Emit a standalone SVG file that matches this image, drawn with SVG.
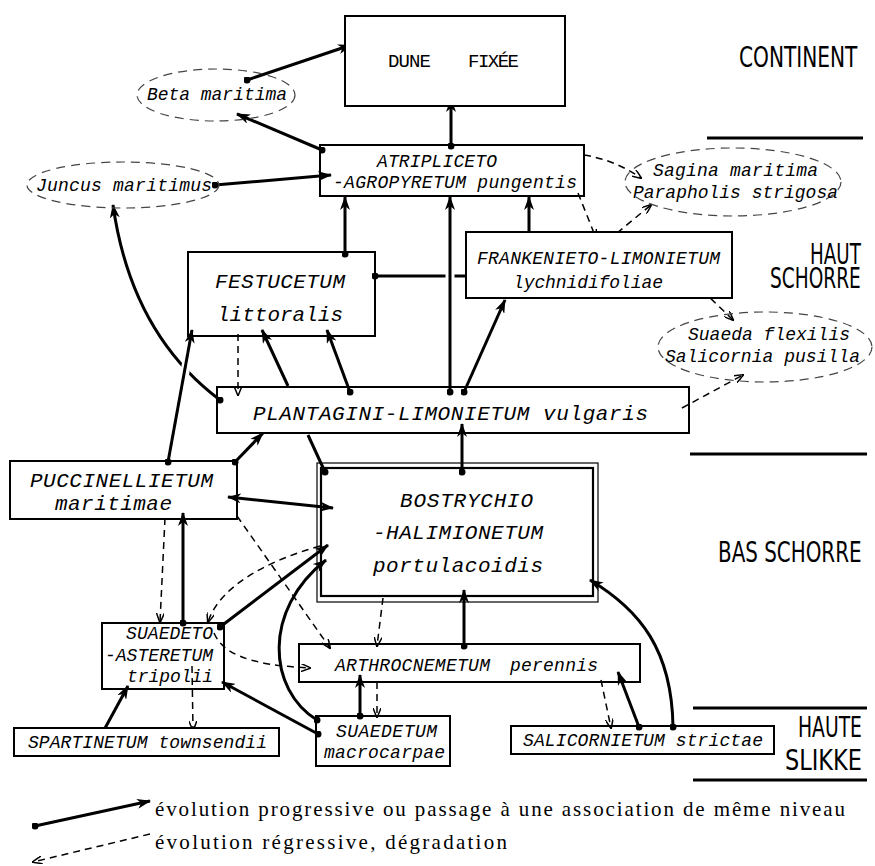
<svg xmlns="http://www.w3.org/2000/svg" width="875" height="866" viewBox="0 0 875 866">
<style>
.bx{fill:#fff;stroke:#000;stroke-width:2}
.el{fill:none;stroke:#444;stroke-width:1.2;stroke-dasharray:9 6}
.t{font-family:"Liberation Mono","Courier New",monospace;font-style:italic;font-size:18px;fill:#000}
.tl{font-family:"Liberation Mono","Courier New",monospace;font-style:italic;font-size:21px;fill:#000}
.up{font-family:"Liberation Mono","Courier New",monospace;font-size:19px;fill:#000}
.z{font-family:"DejaVu Sans Condensed","DejaVu Sans",sans-serif;font-stretch:condensed;font-size:28px;fill:#000}
.lg{font-family:"Liberation Serif","Times New Roman",serif;font-size:21px;fill:#000}
.s{fill:none;stroke:#000;stroke-width:3;marker-end:url(#ah);marker-start:url(#dot)}
.s2{fill:none;stroke:#000;stroke-width:3;marker-end:url(#ah)}
.d{fill:none;stroke:#000;stroke-width:1.5;stroke-dasharray:7 5;marker-end:url(#ahd)}
.zl{stroke:#000;stroke-width:3}
</style>
<defs>
<marker id="ah" viewBox="0 0 14 10" refX="13" refY="5" markerWidth="14" markerHeight="10" markerUnits="userSpaceOnUse" orient="auto-start-reverse"><path d="M0,0 L14,5 L0,10 L4,5 z" fill="#000"/></marker>
<marker id="dot" viewBox="0 0 8 8" refX="4" refY="4" markerWidth="7" markerHeight="7" markerUnits="userSpaceOnUse"><circle cx="4" cy="4" r="4" fill="#000"/></marker>
<marker id="ahd" viewBox="0 0 10 8" refX="9" refY="4" markerWidth="10" markerHeight="8" markerUnits="userSpaceOnUse" orient="auto"><path d="M0,0 L10,4 L0,8" fill="none" stroke="#000" stroke-width="1.5"/></marker>
</defs>
<rect width="875" height="866" fill="#fff"/>

<g id="zones">
<text class="z" transform="translate(739,67) scale(0.80,1)" font-size="32">CONTINENT</text>
<line class="zl" x1="707" y1="138" x2="863" y2="138"/>
<text class="z" transform="translate(810,264) scale(0.726,1)" font-size="26">HAUT</text>
<text class="z" transform="translate(770,288) scale(0.737,1)" font-size="26">SCHORRE</text>
<line class="zl" x1="690" y1="454" x2="867" y2="454"/>
<text class="z" transform="translate(718,562) scale(0.79,1)">BAS SCHORRE</text>
<line class="zl" x1="693" y1="708" x2="867" y2="708"/>
<text class="z" transform="translate(798,737) scale(0.745,1)">HAUTE</text>
<text class="z" transform="translate(785,770) scale(0.89,1)">SLIKKE</text>
<line class="zl" x1="693" y1="780" x2="867" y2="780"/>
</g>

<g id="connectors">
<path class="s" d="M247,80 L351,45"/>
<path class="s" d="M322,150 L237,114"/>
<path class="s" d="M215,185 L331,175"/>
<path class="s" d="M451,146 L451,99"/>
<path class="s" d="M345,254 L345,197"/>
<path fill="none" stroke="#000" stroke-width="3" marker-start="url(#dot)" d="M375,276 L466,276"/>
<line x1="450" y1="268" x2="450" y2="284" stroke="#fff" stroke-width="9"/>
<path class="s" d="M450,392 L450,197"/>
<path class="s" d="M529,236 L529,197"/>
<path class="s" d="M464,392 L505,300"/>
<path class="s2" d="M288,386 L262,330"/>
<path class="s" d="M350,392 L327,330"/>
<path class="s" stroke-width="2.5" d="M220,400 C160,355 125,290 113,205"/>
<line x1="183" y1="383" x2="188" y2="355" stroke="#fff" stroke-width="9"/>
<path class="s" d="M168,462 L192,330"/>
<path class="s" d="M235,462 L263,433"/>
<path fill="none" stroke="#000" stroke-width="3" marker-start="url(#dot)" d="M325,472 L308,435"/>
<path class="s" d="M462,472 L462,424"/>
<path fill="none" stroke="#000" stroke-width="3" marker-start="url(#ah)" marker-end="url(#ah)" d="M228,497 L333,508"/>
<path class="s" d="M183,623 L183,513"/>
<path class="s" d="M220,627 L328,545"/>
<path class="s" d="M317,720 C268,690 262,610 326,560"/>
<path class="s" d="M318,734 L222,682"/>
<path class="s" d="M104,730 L128,686"/>
<path class="s" d="M360,716 L360,675"/>
<path class="s" d="M464,646 L464,590"/>
<path class="s" d="M639,727 L618,672"/>
<path class="s" d="M673,727 C672,650 640,610 590,580"/>

<path class="d" d="M584,155 Q615,160 641,178"/>
<path class="d" d="M578,193 L596,238"/>
<path class="d" d="M617,233 L651,205"/>
<path class="d" d="M702,290 L733,320"/>
<path class="d" d="M682,408 L743,375"/>
<path class="d" d="M238,334 L238,395"/>
<path class="d" d="M165,518 L160,622"/>
<path class="d" d="M237,516 L330,648"/>
<path class="d" d="M320,546 C270,560 220,585 208,622"/>
<path class="d" d="M214,633 C222,652 245,665 310,668"/>
<path class="d" d="M192,666 L193,730"/>
<path class="d" d="M383,598 L377,646"/>
<path class="d" d="M377,682 L377,717"/>
<path class="d" d="M601,680 L611,728"/>
</g>

<g id="dune">
<rect class="bx" x="345" y="16" width="220" height="90"/>
<text class="up" y="67"><tspan x="388" textLength="43">DUNE</tspan> <tspan x="468" textLength="51">FIXÉE</tspan></text>
</g>
<g id="beta">
<ellipse class="el" cx="216" cy="95" rx="79" ry="26"/>
<text class="t" x="147" y="100" textLength="140">Beta maritima</text>
</g>
<g id="juncus">
<ellipse class="el" cx="123" cy="185" rx="96" ry="23"/>
<text class="t" x="36" y="191" textLength="176">Juncus maritimus</text>
</g>
<g id="sagina">
<ellipse class="el" cx="733" cy="182" rx="108" ry="34"/>
<text class="t" x="653" y="176" textLength="165">Sagina maritima</text>
<text class="t" x="633" y="198" textLength="205">Parapholis strigosa</text>
</g>
<g id="suaeda">
<ellipse class="el" cx="765" cy="347" rx="107" ry="35"/>
<text class="t" x="688" y="340" textLength="162">Suaeda flexilis</text>
<text class="t" x="665" y="362" textLength="195">Salicornia pusilla</text>
</g>
<g id="atripliceto">
<rect class="bx" x="320" y="145" width="264" height="51" fill-opacity="0"/>
<text class="t" x="377" y="167" textLength="120">ATRIPLICETO</text>
<text class="t" x="333" y="188" textLength="244">-AGROPYRETUM pungentis</text>
</g>
<g id="frankenieto">
<rect class="bx" x="466" y="232" width="266" height="66"/>
<text class="t" x="477" y="264" textLength="243">FRANKENIETO-LIMONIETUM</text>
<text class="t" x="513" y="288" textLength="150">lychnidifoliae</text>
</g>
<g id="festucetum">
<rect class="bx" x="188" y="252" width="187" height="84" fill-opacity="0"/>
<text class="tl" x="215" y="288" textLength="130">FESTUCETUM</text>
<text class="tl" x="217" y="321" textLength="126">littoralis</text>
</g>
<g id="plantagini">
<rect class="bx" x="217" y="387" width="472" height="46" fill-opacity="0"/>
<text class="tl" x="253" y="420" textLength="395">PLANTAGINI-LIMONIETUM vulgaris</text>
</g>
<g id="puccinellietum">
<rect class="bx" x="10" y="461" width="227" height="58" fill-opacity="0"/>
<text class="tl" x="30" y="487" textLength="183">PUCCINELLIETUM</text>
<text class="tl" x="55" y="510" textLength="117">maritimae</text>
</g>
<g id="bostrychio">
<rect x="317" y="463" width="281" height="139" fill="none" stroke="#000" stroke-width="1.2"/>
<rect x="321" y="468" width="272" height="128" fill="none" stroke="#000" stroke-width="2.2"/>
<text class="tl" x="400" y="507" textLength="133">BOSTRYCHIO</text>
<text class="tl" x="373" y="539" textLength="170">-HALIMIONETUM</text>
<text class="tl" x="373" y="572" textLength="170">portulacoidis</text>
</g>
<g id="suaedeto">
<rect class="bx" x="102" y="623" width="122" height="66" fill-opacity="0"/>
<text class="t" x="126" y="639" textLength="87">SUAEDETO</text>
<text class="t" x="105" y="661" textLength="108">-ASTERETUM</text>
<text class="t" x="127" y="682" textLength="86">tripolii</text>
</g>
<g id="arthrocnemetum">
<rect class="bx" x="299" y="644" width="341" height="38" fill-opacity="0"/>
<text class="t" y="671"><tspan x="335" textLength="155">ARTHROCNEMETUM</tspan> <tspan x="510" textLength="88">perennis</tspan></text>
</g>
<g id="spartinetum">
<rect class="bx" x="14" y="728" width="265" height="28"/>
<text class="t" x="28" y="748" textLength="239">SPARTINETUM townsendii</text>
</g>
<g id="suaedetum">
<rect class="bx" x="316" y="716" width="134" height="50" fill-opacity="0"/>
<text class="t" x="336" y="737" textLength="101">SUAEDETUM</text>
<text class="t" x="324" y="758" textLength="121">macrocarpae</text>
</g>
<g id="salicornietum">
<rect class="bx" x="511" y="726" width="263" height="28" fill-opacity="0"/>
<text class="t" x="523" y="746" textLength="240">SALICORNIETUM strictae</text>
</g>

<g id="legend">
<path class="s" d="M35,826 L150,801"/>
<path class="d" d="M150,834 L33,862"/>
<text class="lg" x="155" y="816" textLength="690">évolution progressive ou passage à une association de même niveau</text>
<text class="lg" x="155" y="849" textLength="352">évolution régressive, dégradation</text>
</g>
</svg>
